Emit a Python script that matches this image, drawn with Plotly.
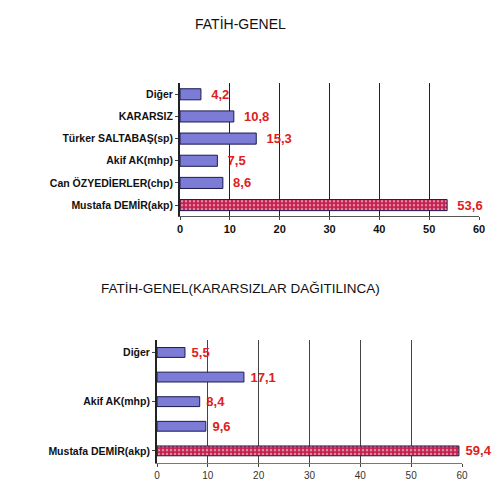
import plotly.graph_objects as go

# top chart data
cats1 = ["Diğer", "KARARSIZ", "Türker SALTABAŞ(sp)", "Akif AK(mhp)",
         "Can ÖZYEDİERLER(chp)", "Mustafa DEMİR(akp)"]
vals1 = [4.2, 10.8, 15.3, 7.5, 8.6, 53.6]

# bottom chart data (undecided distributed)
cats2 = ["Diğer", "Türker SALTABAŞ(sp)", "Akif AK(mhp)",
         "Can ÖZYEDİERLER(chp)", "Mustafa DEMİR(akp)"]
vals2 = [5.5, 17.1, 8.4, 9.6, 59.4]
shown2 = ["Diğer", "Akif AK(mhp)", "Mustafa DEMİR(akp)"]

xticks = [0, 10, 20, 30, 40, 50, 60]

BLUE = "#7c7cd6"
RED = "#c4204e"
FONT = "Liberation Sans"


def bar_colors(cats):
    return [RED if "akp" in c else BLUE for c in cats]


def patterns(cats):
    return ["." if "akp" in c else "" for c in cats]


def fmt(v, pad="  "):
    return pad + str(v).replace(".", ",")


fig = go.Figure()

fig.add_trace(go.Bar(
    x=vals1, y=cats1, orientation="h", width=0.5,
    marker=dict(color=bar_colors(cats1), line=dict(color="#1a1a50", width=1),
                pattern=dict(shape=patterns(cats1), fgcolor="#f3a0b8", size=4, solidity=0.3)),
    text=[fmt(v) for v in vals1], textposition="outside", cliponaxis=False,
    constraintext="none",
    textfont=dict(family=FONT, size=13, color="#e02020", weight="bold"),
    xaxis="x", yaxis="y",
))

fig.add_trace(go.Bar(
    x=vals2, y=cats2, orientation="h", width=0.4,
    marker=dict(color=bar_colors(cats2), line=dict(color="#1a1a50", width=1),
                pattern=dict(shape=patterns(cats2), fgcolor="#f3a0b8", size=4, solidity=0.3)),
    text=[fmt(v, " ") for v in vals2], textposition="outside", cliponaxis=False,
    constraintext="none",
    textfont=dict(family=FONT, size=13, color="#e02020", weight="bold"),
    xaxis="x2", yaxis="y2",
))

fig.update_layout(
    width=500, height=498,
    margin=dict(l=0, r=0, t=0, b=0),
    paper_bgcolor="white", plot_bgcolor="white",
    showlegend=False,
    font=dict(family=FONT, color="#111111"),
    xaxis=dict(domain=[0.344, 0.942], anchor="y", range=[0, 60], tickvals=xticks,
               showgrid=True, gridcolor="#222222", gridwidth=1, zeroline=False,
               showline=True, linecolor="#555555", ticks="outside", ticklen=3,
               automargin=False,
               tickfont=dict(size=11, weight="bold", color="#111111")),
    yaxis=dict(domain=[0.582, 0.849], anchor="x", autorange="reversed",
               showline=True, linecolor="#222222", linewidth=2, ticks="outside", ticklen=3,
               automargin=False,
               tickfont=dict(size=10.5, weight="bold", color="#111111")),
    xaxis2=dict(domain=[0.298, 0.908], anchor="y2", range=[0, 60], tickvals=xticks,
                showgrid=True, gridcolor="#444444", gridwidth=1, zeroline=False,
                showline=True, linecolor="#777777", ticks="outside", ticklen=3,
                automargin=False,
                tickfont=dict(size=10, color="#333333")),
    yaxis2=dict(domain=[0.086, 0.333], anchor="x2", autorange="reversed",
                tickmode="array", tickvals=shown2, ticktext=shown2,
                showline=True, linecolor="#222222", linewidth=2, ticks="outside", ticklen=3,
                automargin=False,
                tickfont=dict(size=10.5, weight="bold", color="#111111")),
    annotations=[
        dict(text="FATİH-GENEL", x=232 / 500, y=1 - 15 / 498, xref="paper", yref="paper",
             xanchor="center", yanchor="middle", showarrow=False,
             font=dict(size=14, family=FONT, color="#111111")),
        dict(text="FATİH-GENEL(KARARSIZLAR DAĞITILINCA)", x=232 / 500, y=1 - 280 / 498,
             xref="paper", yref="paper", xanchor="center", yanchor="middle", showarrow=False,
             font=dict(size=13.5, family=FONT, color="#111111")),
    ],
)

fig.write_html("out.html")
